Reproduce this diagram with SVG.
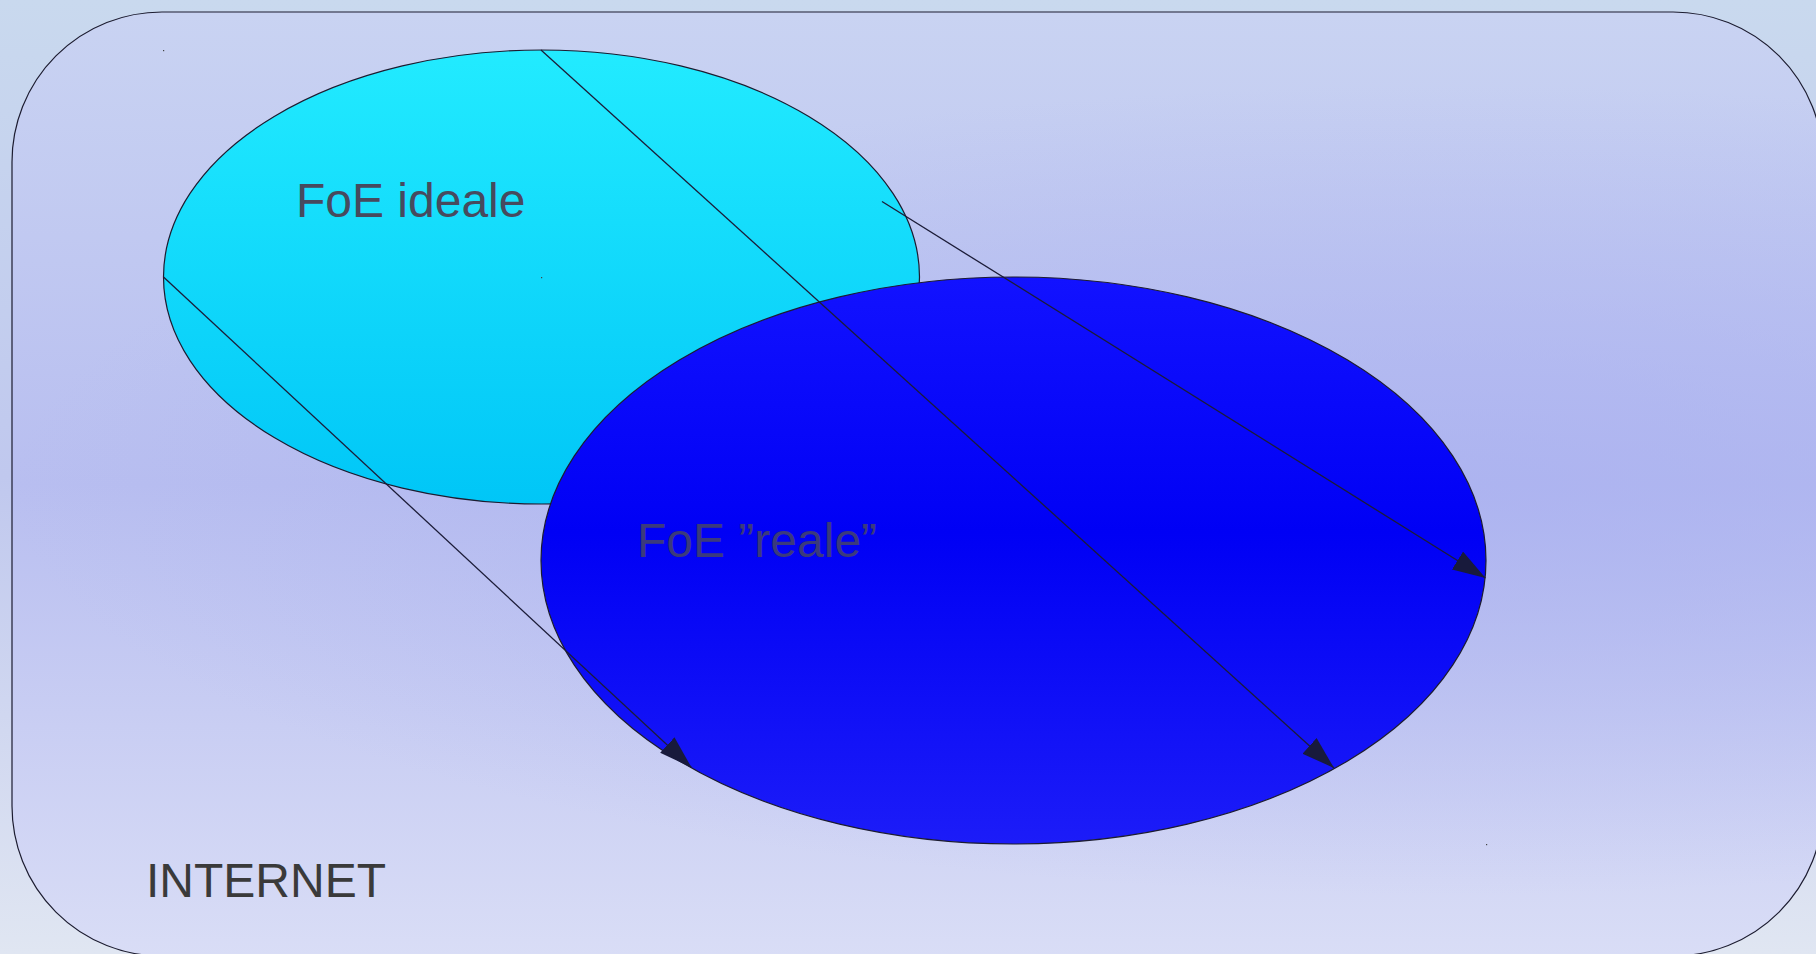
<svg xmlns="http://www.w3.org/2000/svg" width="1816" height="954" viewBox="0 0 1816 954">
  <defs>
    <linearGradient id="pageBg" x1="0" y1="0" x2="0" y2="1">
      <stop offset="0" stop-color="#c9d9ee"/>
      <stop offset="0.5" stop-color="#c0c8ee"/>
      <stop offset="1" stop-color="#e0e6f2"/>
    </linearGradient>
    <linearGradient id="netBg" x1="0" y1="0" x2="0" y2="1">
      <stop offset="0" stop-color="#c9d3f2"/>
      <stop offset="0.5" stop-color="#b8bef0"/>
      <stop offset="1" stop-color="#d9ddf6"/>
    </linearGradient>
    <radialGradient id="netGlow" gradientUnits="userSpaceOnUse" cx="1450" cy="490" r="900" gradientTransform="translate(1450 490) scale(1.6 0.45) translate(-1450 -490)">
      <stop offset="0" stop-color="#a8aff0" stop-opacity="0.7"/>
      <stop offset="1" stop-color="#a8aff0" stop-opacity="0"/>
    </radialGradient>
    <linearGradient id="cyanFill" x1="0" y1="0" x2="0" y2="1">
      <stop offset="0" stop-color="#22ebff"/>
      <stop offset="1" stop-color="#00c6f7"/>
    </linearGradient>
    <linearGradient id="blueFill" x1="0" y1="0" x2="0" y2="1">
      <stop offset="0" stop-color="#1212ff"/>
      <stop offset="0.45" stop-color="#0000f5"/>
      <stop offset="1" stop-color="#1c1cf8"/>
    </linearGradient>
    <marker id="arrow" markerUnits="userSpaceOnUse" markerWidth="34" markerHeight="22" refX="33" refY="10.5" orient="auto">
      <path d="M0,0 L33,10.5 L0,21 Z" fill="#181a3c"/>
    </marker>
    <style>
      .outline { stroke: #1c1c30; stroke-width: 1.2; }
      .conn { stroke: #1c1c38; stroke-width: 1.3; fill: none; marker-end: url(#arrow); }
      .label { font-family: "Liberation Sans", Arial, sans-serif; font-size: 48px; }
      .dot { fill: #444; }
    </style>
  </defs>

  <rect x="0" y="0" width="1816" height="954" fill="url(#pageBg)"/>

  <g id="internet">
    <rect x="12" y="12" width="1811" height="944" rx="150" ry="150" fill="url(#netBg)"/>
    <rect x="12" y="12" width="1811" height="944" rx="150" ry="150" fill="url(#netGlow)" class="outline"/>
    <text class="label" x="146" y="897" fill="#3a3a3a">INTERNET</text>
  </g>

  <g id="foe-ideale">
    <ellipse cx="541.5" cy="277" rx="378" ry="227" fill="url(#cyanFill)" class="outline"/>
    <text class="label" x="296" y="217" fill="#474a5e">FoE ideale</text>
  </g>

  <g id="foe-reale">
    <ellipse cx="1013.5" cy="560.5" rx="472.5" ry="283.5" fill="url(#blueFill)" class="outline"/>
    <text class="label" x="637" y="557" fill="#3b3a7c">FoE ”reale”</text>
  </g>

  <g id="connectors">
    <line class="conn" x1="541" y1="50" x2="1334" y2="768"/>
    <line class="conn" x1="882" y1="201.5" x2="1485.5" y2="578"/>
    <line class="conn" x1="163.5" y1="277" x2="691.5" y2="767.5"/>
  </g>

  <g id="handles">
    <rect class="dot" x="163" y="50" width="1.2" height="1.2"/>
    <rect class="dot" x="541" y="277" width="1.2" height="1.2"/>
    <rect class="dot" x="1486" y="844" width="1.2" height="1.2"/>
  </g>
</svg>
